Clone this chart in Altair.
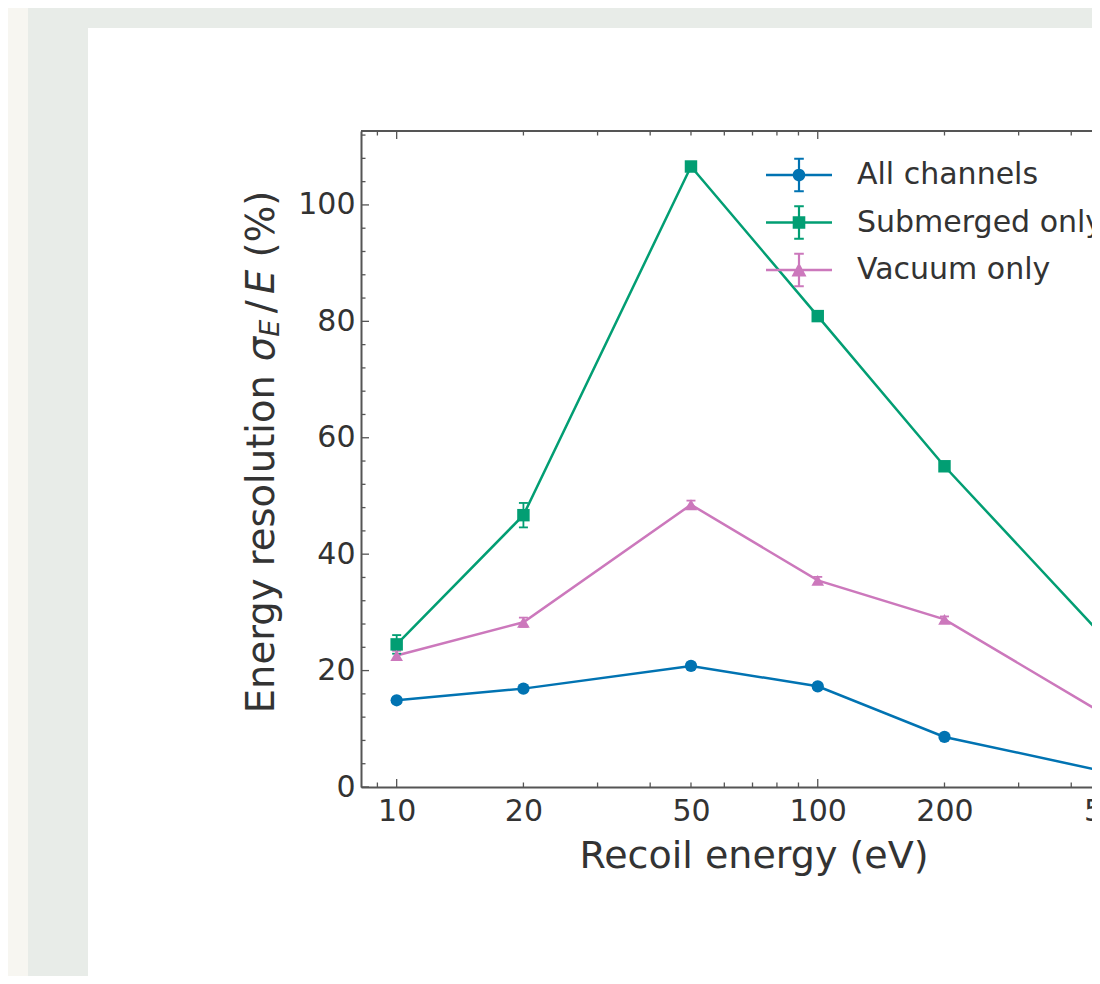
import altair as alt
import pandas as pd

# ---------------- data ----------------
energies = [10, 20, 50, 100, 200, 500]
series_names = ["All channels", "Submerged only", "Vacuum only"]
all_vals = [14.9, 16.9, 20.8, 17.3, 8.6, 2.4]
all_errs = [0.4, 0.4, 0.5, 0.5, 0.4, 0.3]
sub_vals = [24.5, 46.7, 106.6, 80.9, 55.1, 24.2]
sub_errs = [1.6, 2.1, 0.8, 0.7, 0.6, 0.6]
vac_vals = [22.6, 28.3, 48.5, 35.5, 28.8, 11.7]
vac_errs = [0.8, 0.8, 0.7, 0.6, 0.5, 0.4]
series_colors = ["#0173b2", "#029e73", "#cc78bc"]
series_shapes = ["circle", "square", "triangle-up"]

x_labels = [10, 20, 50, 100, 200, 500]
x_major_ticks = [10, 100]
x_minor_ticks = [9, 20, 30, 40, 50, 60, 70, 80, 90, 200, 300, 400, 500, 600]
y_labels = [0, 20, 40, 60, 80, 100]
y_minor_ticks = [4, 8, 12, 16, 24, 28, 32, 36, 44, 48, 52, 56, 64, 68, 72,
                 76, 84, 88, 92, 96, 104, 108, 112]

rows = []
for name, vals, errs in zip(series_names, [all_vals, sub_vals, vac_vals],
                            [all_errs, sub_errs, vac_errs]):
    for e, v, s in zip(energies, vals, errs):
        rows.append({"energy": e, "value": v, "lo": v - s, "hi": v + s, "series": name})
df = pd.DataFrame(rows)

# ---------------- style / layout ----------------
FONT = "DejaVu Sans"
TEXT = "#333333"
SPINE = "#555555"
PLOT_W, PLOT_H = 731, 656
PAD = {"left": 353, "top": 123, "right": 0, "bottom": 189}
X_RANGE = 785
x_scale = alt.Scale(type="log", domain=[8.228, 602.0], range=[0, X_RANGE], nice=False)
y_scale = alt.Scale(domain=[0, 112.7], nice=False, zero=False)
c_scale = alt.Scale(domain=series_names, range=series_colors)
s_scale = alt.Scale(domain=series_names, range=series_shapes)

X_AX = alt.Axis(values=x_labels, format="d", labelFont=FONT, labelFontSize=30,
                labelColor=TEXT, labelPadding=9, ticks=False, tickSize=0,
                domain=True, domainColor=SPINE, domainWidth=2, grid=False,
                labelFlush=False, labelOverlap=False, labelBound=False,
                title="Recoil energy (eV)", titleFont=FONT, titleFontSize=38,
                titleFontWeight="normal", titleColor=TEXT,
                titleBaseline="alphabetic", titleY=80, zindex=1)
Y_AX = alt.Axis(values=y_labels, format="d", labelFont=FONT, labelFontSize=30,
                labelColor=TEXT, labelPadding=6, ticks=False, tickSize=0,
                domain=True, domainColor=SPINE, domainWidth=2, grid=False,
                labelFlush=False, labelOverlap=False, title=None, zindex=1)


def fx(field):
    return alt.X(field, scale=x_scale, axis=X_AX)


def fy(field):
    return alt.Y(field, scale=y_scale, axis=Y_AX)


one = pd.DataFrame({"k": [0]})


# background strips of the page
def strip(color, x0, x1, y0, y1):
    return alt.Chart(one).mark_rect(color=color).encode(
        x=alt.value(x0), x2=alt.value(x1), y=alt.value(y0), y2=alt.value(y1))


canvas_left = -PAD["left"]
canvas_top = -PAD["top"]
canvas_bottom = PLOT_H + PAD["bottom"]
strips = [
    strip("#f7f6f1", canvas_left, canvas_left + 20, canvas_top, canvas_bottom),
    strip("#e8ece8", canvas_left + 20, canvas_left + 80, canvas_top, canvas_bottom),
    strip("#e8ece8", canvas_left + 20, PLOT_W, canvas_top, canvas_top + 20),
]

# ---------------- data layers ----------------
base = alt.Chart(df)
C = alt.Color("series:N", scale=c_scale, legend=None)

lines = base.mark_line(strokeWidth=2.5).encode(
    x=fx("energy:Q"), y=fy("value:Q"), color=C, detail="series:N")
err_rules = base.mark_rule(strokeWidth=1.8).encode(
    x=fx("energy:Q"), y=fy("lo:Q"), y2="hi:Q", color=C)
cap_lo = base.mark_tick(orient="horizontal", size=9, thickness=1.8, opacity=1).encode(
    x=fx("energy:Q"), y=fy("lo:Q"), color=C)
cap_hi = base.mark_tick(orient="horizontal", size=9, thickness=1.8, opacity=1).encode(
    x=fx("energy:Q"), y=fy("hi:Q"), color=C)
points = base.mark_point(filled=True, opacity=1).encode(
    x=fx("energy:Q"), y=fy("value:Q"), color=C,
    shape=alt.Shape("series:N", scale=s_scale, legend=None),
    size=alt.Size("series:N", scale=alt.Scale(domain=series_names, range=[150, 160, 175]),
                  legend=None))

# ---------------- legend (errorbar style handles) ----------------
U = 20.0  # px per unit of symbol path (sqrt(size)/2)


def rect(x0, y0, x1, y1):
    return f"M{x0/U:.3f},{y0/U:.3f}H{x1/U:.3f}V{y1/U:.3f}H{x0/U:.3f}Z"


def legend_path(marker):
    parts = [rect(-33, -1.3, 33, 1.3), rect(-1.1, -16.3, 1.1, 16.3),
             rect(-4.8, -17.3, 4.8, -15.3), rect(-4.8, 15.3, 4.8, 17.3)]
    if marker == "circle":
        r = 6.3 / U
        parts.append(f"M{r:.3f},0A{r:.3f},{r:.3f} 0 1,1 {-r:.3f},0"
                     f"A{r:.3f},{r:.3f} 0 1,1 {r:.3f},0Z")
    elif marker == "square":
        parts.append(rect(-6.3, -6.3, 6.3, 6.3))
    else:
        parts.append(f"M0,{-7.5/U:.3f}L{7.5/U:.3f},{6.5/U:.3f}L{-7.5/U:.3f},{6.5/U:.3f}Z")
    return "".join(parts)


leg = dict(orient="none", legendX=418, legendY=24, padding=0, rowPadding=9.5,
           labelFont=FONT, labelFontSize=30, labelColor=TEXT, labelOffset=38,
           labelLimit=600, labelBaseline="middle", symbolSize=1600,
           symbolStrokeWidth=0, symbolOpacity=1, title=None)
legend_layer = base.mark_point(filled=True, opacity=0).encode(
    x=fx("energy:Q"), y=fy("value:Q"),
    color=alt.Color("series:N", scale=alt.Scale(domain=series_names, range=series_colors),
                    legend=alt.Legend(**leg)),
    shape=alt.Shape("series:N",
                    scale=alt.Scale(domain=series_names,
                                    range=[legend_path(m) for m in series_shapes]),
                    legend=alt.Legend(**leg)))


# ---------------- inward ticks and top spine ----------------
def xticks(vals, length):
    d = pd.DataFrame({"energy": vals})
    b = alt.Chart(d).mark_rule(color=SPINE, strokeWidth=1.3)
    return [b.encode(x=fx("energy:Q"), y=alt.value(PLOT_H - length), y2=alt.value(PLOT_H)),
            b.encode(x=fx("energy:Q"), y=alt.value(0), y2=alt.value(length))]


def yticks(vals, length):
    d = pd.DataFrame({"value": vals})
    return [alt.Chart(d).mark_rule(color=SPINE, strokeWidth=1.3).encode(
        y=fy("value:Q"), x=alt.value(0), x2=alt.value(length))]


tick_layers = (xticks(x_major_ticks, 8) + xticks(x_minor_ticks, 4.5)
               + yticks(y_labels, 8) + yticks(y_minor_ticks, 4.5))
top_spine = alt.Chart(one).mark_rule(color=SPINE, strokeWidth=2).encode(
    x=alt.value(0), x2=alt.value(X_RANGE), y=alt.value(0))

# ---------------- y-axis title with math pieces ----------------
TF = 38.5
title_x = -87.5
pieces = [  # text, em offset along baseline, size factor, style, baseline shift px
    ("Energy resolution", 0.0, 1.0, "normal", 0),
    ("\u03c3", 9.142, 1.0, "italic", 0),
    ("E", 9.777, 0.7, "italic", 5),
    ("/", 10.386, 1.0, "normal", 0),
    ("E", 10.890, 1.0, "italic", 0),
    ("(%)", 11.840, 1.0, "normal", 0),
]
total_em = 13.57
start_y = (PLOT_H / 2) - 7 + total_em * TF / 2
title_layers = []
for txt, off, fac, style, shift in pieces:
    title_layers.append(
        alt.Chart(one).mark_text(text=txt, angle=270, align="left", baseline="alphabetic",
                                 font=FONT, fontSize=TF * fac, fontStyle=style,
                                 color=TEXT).encode(
            x=alt.value(title_x + shift), y=alt.value(start_y - off * TF)))

chart = alt.layer(
    *strips, lines, err_rules, cap_lo, cap_hi, points, legend_layer,
    *tick_layers, top_spine, *title_layers
).resolve_scale(
    color="independent", shape="independent", size="independent"
).properties(
    width=PLOT_W, height=PLOT_H, background="white", padding=PAD,
    autosize=alt.AutoSizeParams(type="none")
).configure_view(stroke="transparent")

chart.save("out.html", embed_options={"renderer": "svg", "actions": False})
